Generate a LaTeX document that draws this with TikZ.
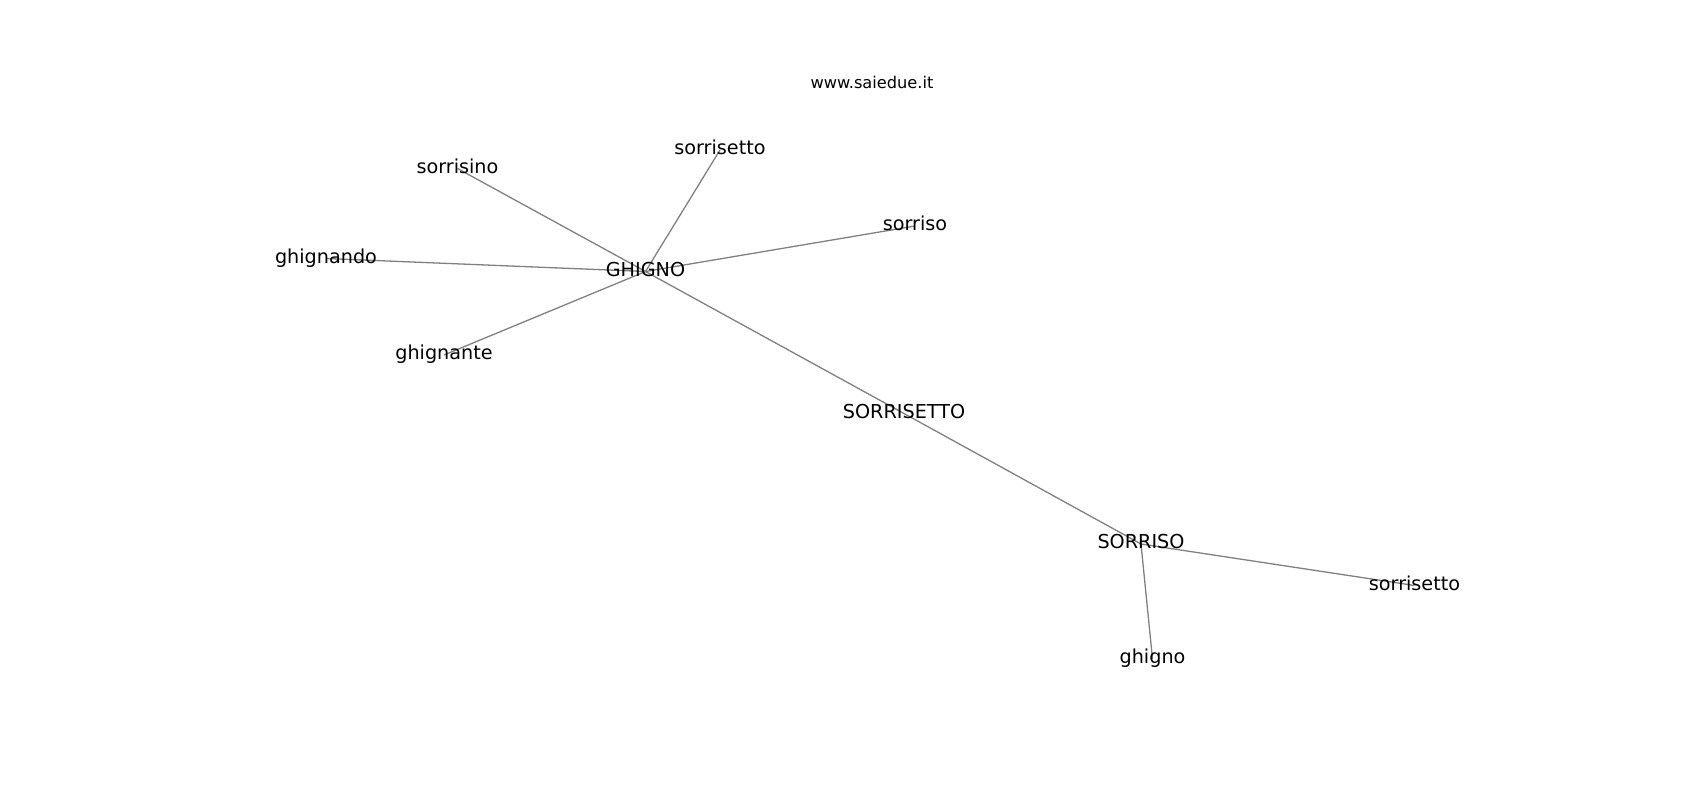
\documentclass[tikz,border=0pt]{standalone}
\usepackage{fontspec}
\setmainfont{DejaVu Sans}
\usetikzlibrary{backgrounds}
\tikzset{
  lbl/.style={inner sep=0pt, outer sep=0pt, text height=1.14em, text depth=0.16em,
    font=\fontsize{19.2}{22}\selectfont, text=black},
  ttl/.style={inner sep=0pt, outer sep=0pt, text height=1.1em, text depth=0.24em,
    font=\fontsize{16.2}{19}\selectfont, text=black},
  edge/.style={draw=black!50, line width=1.3pt}
}
\begin{document}
\begin{tikzpicture}[x=1pt,y=-1pt]
\useasboundingbox (0,0) rectangle (1700,800);
\node[ttl] (title) at (872,84) {www.saiedue.it};
\node[lbl] (GHIGNO) at (645.5,271.5) {GHIGNO};
\node[lbl] (sorrisettoA) at (720,150) {sorrisetto};
\node[lbl] (sorrisino) at (457.5,168.5) {sorrisino};
\node[lbl] (sorrisoB) at (915,226) {sorriso};
\node[lbl] (ghignando) at (326,258.5) {ghignando};
\node[lbl] (ghignante) at (444,355) {ghignante};
\node[lbl] (SORRISETTO) at (904,413.5) {SORRISETTO};
\node[lbl] (SORRISO) at (1141,544) {SORRISO};
\node[lbl] (sorrisettoB) at (1414.5,585.5) {sorrisetto};
\node[lbl] (ghigno) at (1152.5,659) {ghigno};
\begin{scope}[on background layer]
\draw[edge] (GHIGNO.center) -- (sorrisettoA.center);
\draw[edge] (GHIGNO.center) -- (sorrisino.center);
\draw[edge] (GHIGNO.center) -- (sorrisoB.center);
\draw[edge] (GHIGNO.center) -- (ghignando.center);
\draw[edge] (GHIGNO.center) -- (ghignante.center);
\draw[edge] (GHIGNO.center) -- (SORRISETTO.center);
\draw[edge] (SORRISETTO.center) -- (SORRISO.center);
\draw[edge] (SORRISO.center) -- (sorrisettoB.center);
\draw[edge] (SORRISO.center) -- (ghigno.center);
\end{scope}
\end{tikzpicture}
\end{document}
